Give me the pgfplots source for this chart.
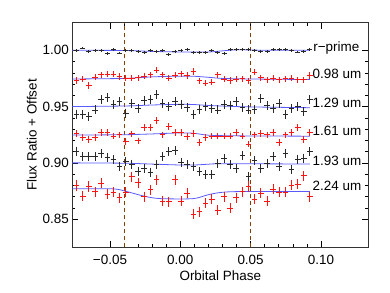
\documentclass[border=0pt]{standalone}
\usepackage{pgfplots}
\pgfplotsset{compat=1.18}
\usepackage{pgfplotstable}
\usepackage{fontspec}
\setmainfont{Liberation Sans}
\usetikzlibrary{calc}
\definecolor{modelblue}{RGB}{90,90,255}
\definecolor{dashbrown}{RGB}{130,65,0}
\definecolor{dkgray}{RGB}{40,40,40}
\definecolor{myred}{RGB}{255,20,20}

\pgfplotstableread{
x r a b c d e
-0.0737 0.9997 0.9731 0.9432 0.9263 0.9105 0.8799
-0.0693 1.0020 0.9743 0.9432 0.9228 0.9056 0.8705
-0.0650 0.9990 0.9686 0.9411 0.9210 0.9056 0.8790
-0.0606 1.0000 0.9760 0.9470 0.9225 0.9056 0.8745
-0.0562 1.0000 0.9781 0.9559 0.9269 0.9086 0.8820
-0.0519 0.9970 0.9787 0.9580 0.9269 0.9047 0.8720
-0.0475 1.0003 0.9787 0.9515 0.9239 0.9027 0.8740
-0.0431 0.9976 0.9766 0.9544 0.9248 0.8967 0.8690
-0.0388 1.0000 0.9751 0.9441 0.9189 0.9012 0.8740
-0.0344 1.0000 0.9754 0.9529 0.9257 0.8988 0.8875
-0.0300 0.9990 0.9757 0.9479 0.9195 0.8923 0.8825
-0.0257 0.9980 0.9772 0.9550 0.9316 0.8953 0.8700
-0.0213 1.0000 0.9781 0.9559 0.9316 0.8917 0.8760
-0.0169 0.9990 0.9825 0.9609 0.9376 0.8988 0.8850
-0.0126 1.0000 0.9781 0.9529 0.9248 0.9056 0.8660
-0.0082 0.9960 0.9751 0.9500 0.9322 0.9100 0.8655
-0.0038 0.9990 0.9778 0.9544 0.9269 0.9106 0.8850
0.0005 0.9995 0.9790 0.9515 0.9269 0.9006 0.8660
0.0049 1.0003 0.9775 0.9491 0.9233 0.8982 0.8730
0.0093 0.9980 0.9811 0.9426 0.9263 0.8967 0.8545
0.0136 0.9980 0.9728 0.9476 0.9183 0.8923 0.8565
0.0180 0.9980 0.9707 0.9500 0.9228 0.8899 0.8640
0.0224 1.0000 0.9716 0.9485 0.9239 0.8899 0.8675
0.0267 0.9980 0.9781 0.9470 0.9239 0.8997 0.8580
0.0311 0.9970 0.9743 0.9520 0.9239 0.9036 0.8700
0.0355 1.0005 0.9731 0.9509 0.9239 0.8982 0.8595
0.0398 1.0005 0.9743 0.9544 0.9269 0.8953 0.8690
0.0442 1.0010 0.9746 0.9491 0.9239 0.9065 0.8745
0.0486 1.0010 0.9728 0.9470 0.9168 0.8880 0.8790
0.0529 1.0000 0.9805 0.9476 0.9248 0.9020 0.8675
0.0573 0.9990 0.9757 0.9574 0.9263 0.8953 0.8730
0.0617 0.9990 0.9737 0.9509 0.9248 0.8997 0.8660
0.0660 1.0003 0.9751 0.9479 0.9269 0.9056 0.8765
0.0704 1.0003 0.9737 0.9529 0.9180 0.8967 0.8740
0.0748 1.0003 0.9746 0.9432 0.9248 0.9086 0.8740
0.0791 1.0000 0.9751 0.9479 0.9269 0.8938 0.8800
0.0835 0.9985 0.9737 0.9500 0.9316 0.9027 0.8810
0.0878 0.9990 0.9737 0.9455 0.9210 0.9036 0.8885
0.0922 1.0003 0.9775 0.9559 0.9269 0.9100 0.8700
}\datatable

\newcommand{\fs}{\fontsize{13.5}{16}\selectfont}
\pgfplotsset{
  crosses/.style n args={3}{only marks, mark=+, mark size=#1, forget plot,
    mark options={draw=#3, line width=0.9pt, yscale=#2, solid}},
  model/.style={modelblue, line width=0.8pt, smooth, forget plot},
}

\begin{document}
\begin{tikzpicture}
\begin{axis}[
  scale only axis,
  width=296bp, height=224.6bp,
  xmin=-0.0768, xmax=0.1337,
  ymin=0.825, ymax=1.0245,
  xtick={-0.05,0,0.05,0.10},
  xticklabels={−0.05,0.00,0.05,0.10},
  ytick={0.85,0.90,0.95,1.00},
  yticklabels={0.85,0.90,0.95,1.00},
  minor x tick num=4,
  minor y tick num=4,
  tick align=inside,
  xtick pos=both, ytick pos=both,
  major tick length=6bp,
  minor tick length=3bp,
  every tick/.style={black, line width=0.5pt},
  axis line style={line width=0.6pt, black!80},
  ticklabel style={font=\fs},
  xticklabel style={yshift=-4bp},
  label style={font=\fs},
  xlabel={Orbital Phase},
  ylabel={Flux Ratio + Offset},
  xlabel style={yshift=0bp},
  ylabel style={yshift=-1bp},
  clip=false,
]
% dashed lines
\addplot[dashbrown, line width=0.8pt, dash pattern=on 4.5bp off 2.5bp] coordinates {(-0.04,0.825) (-0.04,1.0245)};
\addplot[dashbrown, line width=0.8pt, dash pattern=on 4.5bp off 2.5bp] coordinates {(0.05,0.825) (0.05,1.0245)};

% models (drawn beneath the data)
\addplot[model] coordinates {(-0.0768,1.0000) (-0.04,0.9998) (-0.02,0.9990) (0,0.9985) (0.02,0.9985) (0.03,0.9995) (0.04,1.0004) (0.05,1.0003) (0.06,1.0000) (0.0922,1.0000)};
\addplot[model] coordinates {(-0.0768,0.9745) (-0.04,0.9750) (-0.02,0.9764) (0,0.9770) (0.01,0.9769) (0.02,0.9760) (0.03,0.9750) (0.05,0.9745) (0.0922,0.9740)};
\addplot[model] coordinates {(-0.0768,0.9500) (-0.04,0.9505) (-0.02,0.9514) (0,0.9520) (0.01,0.9518) (0.02,0.9510) (0.04,0.9500) (0.06,0.9495) (0.0922,0.9490)};
\addplot[model] coordinates {(-0.0768,0.9247) (-0.04,0.9250) (-0.02,0.9257) (0,0.9266) (0.01,0.9262) (0.02,0.9246) (0.04,0.9240) (0.0922,0.9237)};
\addplot[model] coordinates {(-0.0768,0.9000) (-0.04,0.8997) (-0.02,0.8989) (0,0.8981) (0.01,0.8981) (0.02,0.8988) (0.03,0.8992) (0.0922,0.8990)};
\addplot[model] coordinates {(-0.0768,0.8770) (-0.048,0.8769) (-0.039,0.8748) (-0.026,0.8705) (-0.015,0.8683) (0.005,0.8680) (0.012,0.8688) (0.019,0.8714) (0.028,0.8736) (0.042,0.8745) (0.0922,0.8745)};

% data as crosses (x and y error bars)
\addplot[crosses={2.5bp}{0.58}{dkgray}] table[x=x,y=r] {\datatable};
\addplot[crosses={2.8bp}{1.12}{myred}] table[x=x,y=a] {\datatable};
\addplot[crosses={2.8bp}{1.6}{dkgray}] table[x=x,y=b] {\datatable};
\addplot[crosses={2.8bp}{1.21}{myred}] table[x=x,y=c] {\datatable};
\addplot[crosses={2.8bp}{1.6}{dkgray}] table[x=x,y=d] {\datatable};
\addplot[crosses={2.8bp}{1.8}{myred}] table[x=x,y=e] {\datatable};

% labels
\node[anchor=west, font=\fs, inner sep=0pt] at (axis cs:0.0945,1.0023) {r−prime};
\node[anchor=west, font=\fs, inner sep=0pt] at (axis cs:0.0940,0.9790) {0.98 um};
\node[anchor=west, font=\fs, inner sep=0pt] at (axis cs:0.0940,0.9535) {1.29 um};
\node[anchor=west, font=\fs, inner sep=0pt] at (axis cs:0.0940,0.9286) {1.61 um};
\node[anchor=west, font=\fs, inner sep=0pt] at (axis cs:0.0940,0.9020) {1.93 um};
\node[anchor=west, font=\fs, inner sep=0pt] at (axis cs:0.0940,0.8796) {2.24 um};
\end{axis}
\path[use as bounding box] ($(current axis.south west)+(-72.3bp,-45.7bp)$) rectangle ($(current axis.north east)+(21.7bp,22.7bp)$);
\end{tikzpicture}
\end{document}
